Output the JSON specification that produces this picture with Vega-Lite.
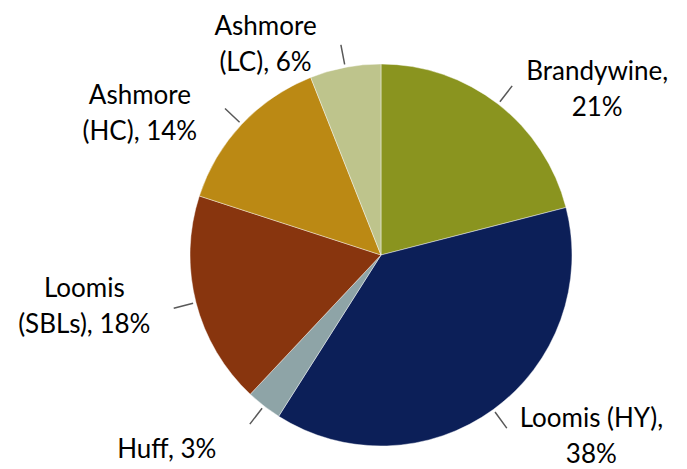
{
  "$schema": "https://vega.github.io/schema/vega-lite/v6.json",
  "width": 612,
  "height": 428,
  "autosize": "none",
  "padding": {"left": 75, "top": 41, "right": 0, "bottom": 0},
  "background": "white",
  "config": {"view": {"stroke": null}},
  "data": {
    "values": [
      {"idx": 1, "name": "Brandywine", "share": 21, "label": "Brandywine,\n21%"},
      {"idx": 2, "name": "Loomis (HY)", "share": 38, "label": "Loomis (HY),\n38%"},
      {"idx": 3, "name": "Huff", "share": 3, "label": "Huff, 3%"},
      {"idx": 4, "name": "Loomis (SBLs)", "share": 18, "label": "Loomis\n(SBLs), 18%"},
      {"idx": 5, "name": "Ashmore (HC)", "share": 14, "label": "Ashmore\n(HC), 14%"},
      {"idx": 6, "name": "Ashmore (LC)", "share": 6, "label": "Ashmore\n(LC), 6%"}
    ]
  },
  "encoding": {
    "theta": {"field": "share", "type": "quantitative", "stack": true},
    "order": {"field": "idx", "type": "quantitative"}
  },
  "layer": [
    {
      "mark": {"type": "arc", "outerRadius": 191, "stroke": "#ffffff", "strokeWidth": 0.7, "strokeOpacity": 0.6},
      "encoding": {
        "color": {
          "field": "name",
          "type": "nominal",
          "scale": {
            "domain": ["Brandywine", "Loomis (HY)", "Huff", "Loomis (SBLs)", "Ashmore (HC)", "Ashmore (LC)"],
            "range": ["#8a941f", "#0c1f58", "#8ea4a7", "#88350e", "#bb8914", "#bec48c"]
          },
          "legend": null
        }
      }
    },
    {
      "mark": {"type": "arc", "innerRadius": 194, "outerRadius": 214, "padAngle": 3, "stroke": "#595959", "strokeWidth": 1.5, "fill": null},
      "encoding": {}
    },
    {
      "mark": {
        "type": "text",
        "radius": 232,
        "font": "Lato",
        "fontSize": 26,
        "lineHeight": 36,
        "color": "#000000",
        "lineBreak": "\n",
        "baseline": "middle",
        "align": "center",
        "dx": {"expr": "(datum.share_start + datum.share_end) / 2 < 50 ? 74 : -72"},
        "dy": {"expr": "cos(PI * (datum.share_start + datum.share_end) / 100) >= 0 ? 0 : (indexof(datum.label, '\\n') >= 0 ? -24 : 12)"}
      },
      "encoding": {"text": {"field": "label", "type": "nominal"}}
    }
  ]
}
